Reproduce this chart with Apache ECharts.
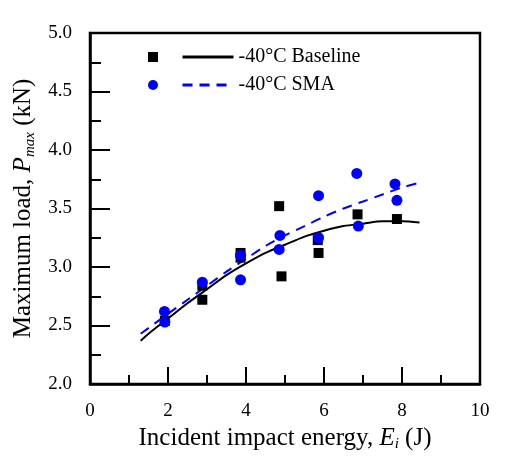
<!DOCTYPE html>
<html>
<head>
<meta charset="utf-8">
<script src="https://cdn.jsdelivr.net/npm/echarts@6/dist/echarts.min.js"></script>
<style>html,body{margin:0;padding:0;background:#fff}#c{width:510px;height:458px}</style>
</head>
<body>
<div id="c"></div>
<script>
// Measured points: [impact energy (J), max load (kN)]
const baselinePoints = [
  [1.92, 2.54], [2.88, 2.84], [2.88, 2.72], [3.86, 3.12], [3.86, 3.08],
  [4.85, 3.52], [4.91, 2.92], [5.84, 3.23], [5.86, 3.12], [6.86, 3.45], [7.87, 3.41]
];
const smaPoints = [
  [1.91, 2.62], [1.92, 2.53], [2.88, 2.87], [3.86, 3.10], [3.86, 2.89],
  [4.87, 3.27], [4.85, 3.15], [5.86, 3.61], [5.86, 3.25], [6.84, 3.80],
  [6.88, 3.35], [7.82, 3.71], [7.87, 3.57]
];
// Trend curves
const baselineFit = [
  [1.3, 2.37], [1.5, 2.43], [2.0, 2.56], [2.5, 2.69], [3.0, 2.81], [3.5, 2.93],
  [4.0, 3.03], [4.5, 3.12], [5.0, 3.19], [5.5, 3.26], [6.0, 3.31], [6.5, 3.35],
  [7.0, 3.37], [7.5, 3.39], [8.0, 3.39], [8.45, 3.38]
];
const smaFit = [
  [1.3, 2.43], [2.0, 2.60], [2.5, 2.72], [3.0, 2.84], [3.5, 2.96], [4.0, 3.07],
  [4.5, 3.18], [5.0, 3.27], [5.5, 3.35], [6.0, 3.43], [6.5, 3.50], [7.0, 3.56],
  [7.5, 3.62], [8.0, 3.68], [8.45, 3.72]
];
const seriesNames = ['-40°C Baseline', '-40°C SMA'];
const xTitle = ['Incident impact energy, ', 'E', 'i', ' (J)'];
const yTitle = ['Maximum load, ', 'P', 'max', ' (kN)'];

const FONT = 'Liberation Serif';
const BLUE = '#0000ff';
const CLEAR = 'rgba(0,0,0,0)';
const chart = echarts.init(document.getElementById('c'), null, {renderer: 'canvas'});

const titleRich = {
  i: {fontFamily: FONT, fontSize: 25, fontStyle: 'italic', color: '#000'},
  s: {fontFamily: FONT, fontSize: 15, fontStyle: 'italic', color: '#000', padding: [12, 0, 0, 0]}
};

chart.setOption({
  animation: false,
  backgroundColor: '#fff',
  grid: {left: 90, right: 30, top: 33, bottom: 74, show: true, borderColor: '#000', borderWidth: 2.5},
  legend: [
    {
      orient: 'vertical', left: 143, top: 47, itemGap: 18, itemWidth: 10, itemHeight: 10,
      selectedMode: false, formatter: () => '',
      data: [{name: 'Baseline data', icon: 'rect'}, {name: 'SMA data', icon: 'circle'}]
    },
    {
      orient: 'vertical', left: 176, top: 42, itemGap: 8, itemWidth: 51, itemHeight: 14,
      selectedMode: false, itemStyle: {opacity: 0},
      lineStyle: {width: 3},
      textStyle: {fontFamily: FONT, fontSize: 20, color: '#000', lineHeight: 20},
      data: [{name: seriesNames[0]}, {name: seriesNames[1]}]
    }
  ],
  xAxis: {
    type: 'value', min: 0, max: 10, interval: 2,
    axisLine: {lineStyle: {color: '#000', width: 2.5}},
    axisTick: {inside: true, length: 17, lineStyle: {color: '#000', width: 2}},
    minorTick: {show: true, splitNumber: 2, length: 9, lineStyle: {color: '#000', width: 2}},
    splitLine: {show: false},
    axisLabel: {fontFamily: FONT, fontSize: 19, color: '#000', margin: 18},
    name: `${xTitle[0]}{i|${xTitle[1]}}{s|${xTitle[2]}}${xTitle[3]}`,
    nameLocation: 'middle', nameGap: 40,
    nameTextStyle: {fontFamily: FONT, fontSize: 25, color: '#000', rich: titleRich}
  },
  yAxis: {
    type: 'value', min: 2, max: 5, interval: 0.5,
    axisLine: {lineStyle: {color: '#000', width: 2.5}},
    axisTick: {inside: true, length: 20, lineStyle: {color: '#000', width: 2}},
    minorTick: {show: true, splitNumber: 2, length: 11, lineStyle: {color: '#000', width: 2}},
    splitLine: {show: false},
    axisLabel: {fontFamily: FONT, fontSize: 19, color: '#000', margin: 18, formatter: v => v.toFixed(1)},
    name: `${yTitle[0]}{i|${yTitle[1]}}{s|${yTitle[2]}}${yTitle[3]}`,
    nameLocation: 'middle', nameGap: 49, nameRotate: 90,
    nameTextStyle: {fontFamily: FONT, fontSize: 25, color: '#000', rich: titleRich}
  },
  series: [
    {
      name: 'Baseline data', type: 'scatter', data: baselinePoints,
      symbol: 'rect', symbolSize: 10, itemStyle: {color: '#000', opacity: 1}, z: 3
    },
    {
      name: 'SMA data', type: 'scatter', data: smaPoints,
      symbol: 'circle', symbolSize: 11, itemStyle: {color: BLUE, opacity: 1}, z: 4
    },
    {
      name: seriesNames[0], type: 'line', data: baselineFit, smooth: 0.3,
      showSymbol: false, symbol: 'circle', lineStyle: {color: '#000', width: 2}, itemStyle: {color: CLEAR}, z: 2
    },
    {
      name: seriesNames[1], type: 'line', data: smaFit, smooth: 0.3,
      showSymbol: false, symbol: 'circle', lineStyle: {color: BLUE, width: 2, type: [10, 7]}, itemStyle: {color: CLEAR}, z: 2
    }
  ]
});
</script>
</body>
</html>
